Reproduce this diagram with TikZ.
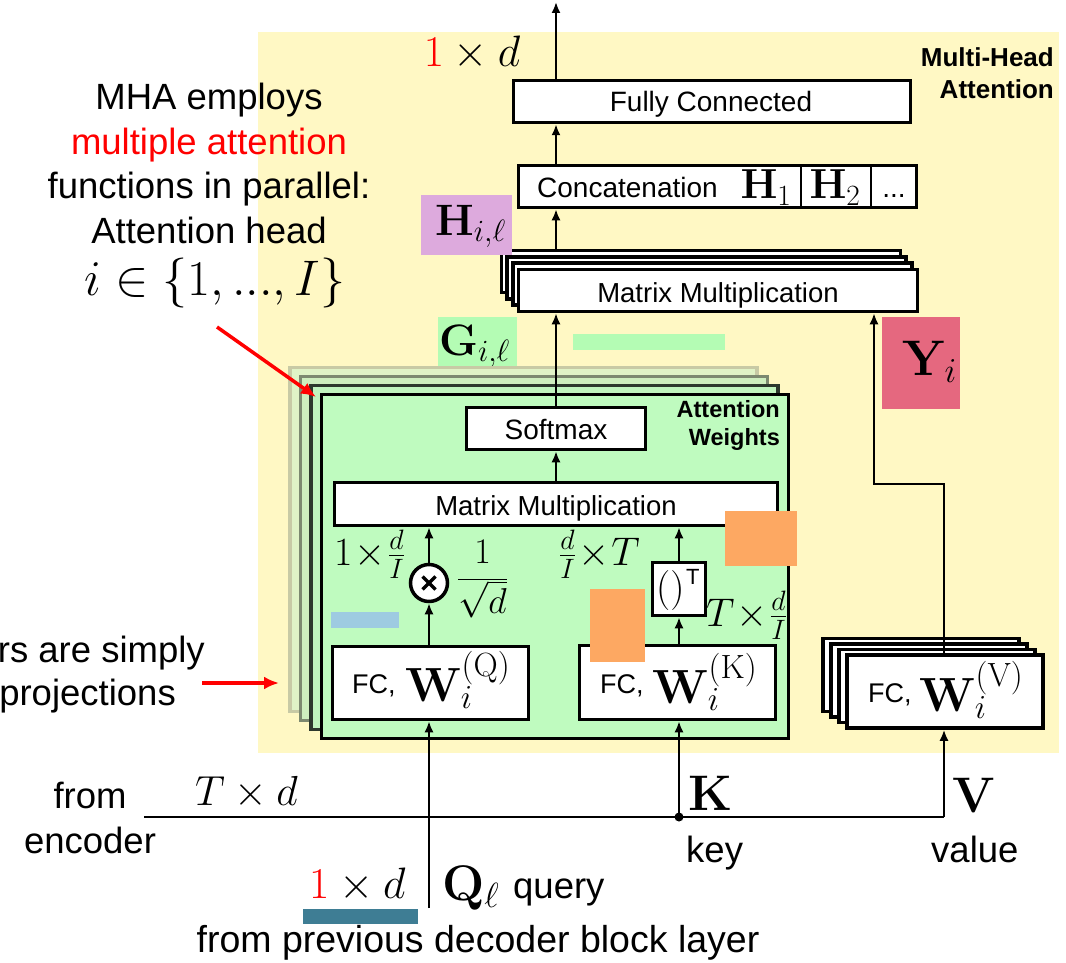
\RequirePackage{fix-cm}
\documentclass[tikz,border=0pt]{standalone}
\usepackage[no-math]{fontspec}
\setmainfont{Liberation Sans}
\usetikzlibrary{arrows.meta}
\definecolor{bgyellow}{RGB}{255,248,196}
\definecolor{attgreen}{RGB}{191,251,191}
\definecolor{ggreen}{RGB}{180,252,180}
\definecolor{hpurple}{RGB}{221,170,221}
\definecolor{yred}{RGB}{229,104,127}
\definecolor{patch}{RGB}{253,168,98}
\definecolor{lblue}{RGB}{158,203,225}
\definecolor{barteal}{RGB}{62,125,148}
\definecolor{gthreefill}{RGB}{224,243,198}
\definecolor{gthreedraw}{RGB}{200,202,165}
\definecolor{gtwofill}{RGB}{206,238,190}
\definecolor{gtwodraw}{RGB}{125,137,112}
\definecolor{gonefill}{RGB}{192,244,190}
\definecolor{gonedraw}{RGB}{45,56,45}
\begin{document}
\begin{tikzpicture}[x=1pt,y=-1pt,
  box/.style={draw, line width=3.5pt, fill=white, inner sep=0pt},
  gbox/.style={draw, line width=3.5pt, inner sep=0pt, minimum width=467, minimum height=344},
  arr/.style={line width=2pt, -{Latex[length=11pt,width=9pt]}},
  redarr/.style={red, line width=3.5pt, -{Latex[length=15pt,width=13pt]}},
  lab/.style={inner sep=0pt, anchor=base, font=\fontsize{36.5}{43}\selectfont},
  dimlab/.style={inner sep=0pt, anchor=base west, font=\fontsize{40}{44}\selectfont},
  boxlab/.style={inner sep=0pt, anchor=base, font=\fontsize{28}{32}\selectfont},
  fclab/.style={inner sep=0pt, anchor=base west, font=\fontsize{27}{32}\selectfont},
  wlab/.style={inner sep=0pt, anchor=base west, font=\fontsize{48}{48}\selectfont},
  titlelab/.style={inner sep=0pt, anchor=base east, font=\bfseries\fontsize{26}{30}\selectfont}]
\useasboundingbox (0,0) rectangle (1066,963);

% multi-head attention panel
\fill[bgyellow] (258,32) rectangle (1059,753);

% explanatory text on the left
\node[lab] (l1) at (209,110) {MHA employs};
\node[lab, text=red] (l2) at (209,155) {multiple attention};
\node[lab] (l3) at (209,199) {functions in parallel:};
\node[lab] (l4) at (209,243) {Attention head};
\node[lab, font=\fontsize{50}{50}\selectfont] (l5) at (215,295) {$i\in\{1,...,I\}$};
\node[lab, anchor=base east] (p1) at (205,662) {rs are simply};
\node[lab, anchor=base east] (p2) at (176,705) {projections};
\coordinate (ra1s) at (217,327);
\coordinate (ra1e) at (316,397);
\coordinate (ra2s) at (202,683);
\coordinate (ra2e) at (279,683);

% panel title
\node[titlelab] (mh1) at (1054,67) {Multi-Head};
\node[titlelab] (mh2) at (1054,99) {Attention};

% output layers
\node[box, minimum width=397, minimum height=42] (fc) at (712,101.5) {};
\node[boxlab] (fct) at (711,112) {Fully Connected};
\node[box, minimum width=398, minimum height=42] (concat) at (717.5,186.5) {};
\node[fclab, font=\fontsize{28}{32}\selectfont] (cattxt) at (537,197) {Concatenation};
\node[lab, font=\fontsize{42}{42}\selectfont] (h1) at (766,199) {$\mathbf{H}_1$};
\node[lab, font=\fontsize{42}{42}\selectfont] (h2) at (835,199) {$\mathbf{H}_2$};
\node[boxlab] (hdots) at (894,197) {...};
\draw[line width=1.5pt] (801,166) -- (801,207);
\draw[line width=1.5pt] (871,166) -- (871,207);

% stacked matrix multiplications (one per head)
\node[box, minimum width=399, minimum height=42] (mmb3) at (701,271.5) {};
\node[box, minimum width=399, minimum height=42] (mmb2) at (706.6,277.8) {};
\node[box, minimum width=399, minimum height=42] (mmb1) at (712.3,284.2) {};
\node[box, minimum width=399, minimum height=42] (mmtop) at (718,290.5) {};
\node[boxlab, font=\fontsize{27.5}{30}\selectfont] (mmtopt) at (718,302) {Matrix Multiplication};

% head labels
\fill[hpurple] (421,195) rectangle (512,255);
\node[lab, anchor=base west, font=\fontsize{44}{44}\selectfont] (hil) at (435,235) {$\mathbf{H}_{i,\ell}$};
\fill[ggreen] (438,317) rectangle (517,367);
\node[lab, anchor=base west, font=\fontsize{44}{44}\selectfont] (gil) at (439,355) {$\mathbf{G}_{i,\ell}$};
\fill[ggreen] (573,334) rectangle (725,350);
\fill[yred] (882,317) rectangle (960,409);
\node[lab, anchor=base west, font=\fontsize{50}{50}\selectfont] (yi) at (902,375) {$\mathbf{Y}_i$};

% attention weight blocks (one per head)
\node[gbox, fill=gthreefill, draw=gthreedraw] (g3) at (523.5,539.5) {};
\node[gbox, fill=gtwofill, draw=gtwodraw] (g2) at (534,548.5) {};
\node[gbox, fill=gonefill, draw=gonedraw] (g1) at (544.5,557.5) {};
\node[gbox, fill=attgreen, draw=black] (att) at (555,566.5) {};
\node[titlelab, font=\bfseries\fontsize{23.5}{26}\selectfont] (aw1) at (780,417) {Attention};
\node[titlelab, font=\bfseries\fontsize{23.5}{26}\selectfont] (aw2) at (780,445) {Weights};

\node[box, minimum width=179, minimum height=42] (softmax) at (556,428.5) {};
\node[boxlab] (smt) at (556,439) {Softmax};
\node[box, minimum width=443, minimum height=43] (mm) at (556,504) {};
\node[boxlab, font=\fontsize{27.5}{30}\selectfont] (mmt) at (556,515) {Matrix Multiplication};

\node[circle, draw, line width=3.5pt, fill=white, minimum size=37, inner sep=0pt] (otimes) at (429,583) {};
\draw[line width=3.5pt] ([shift={(-6.5,-6.5)}]otimes.center) -- ([shift={(6.5,6.5)}]otimes.center);
\draw[line width=3.5pt] ([shift={(-6.5,6.5)}]otimes.center) -- ([shift={(6.5,-6.5)}]otimes.center);

\node[box, minimum width=53, minimum height=53] (tr) at (679,589) {};
\node[lab, anchor=base west, font=\fontsize{40}{40}\selectfont] (trp) at (656,600) {$()$};
\node[lab, anchor=base west, font=\fontsize{22}{22}\selectfont] (trt) at (686,584) {T};

\node[box, minimum width=196, minimum height=73] (fcq) at (430.5,683) {};
\node[fclab] (fcqt) at (352,693) {FC,};
\node[wlab] (fcqw) at (405,701) {$\mathbf{W}_i^{(\mathrm{Q})}$};
\node[box, minimum width=196, minimum height=74] (fck) at (677.5,682.5) {};
\node[fclab] (fckt) at (600,693) {FC,};
\node[wlab] (fckw) at (652,703) {$\mathbf{W}_i^{(\mathrm{K})}$};

% dimension annotations inside the block
\node[dimlab] (dq) at (334,565) {$1\!\times\!\frac{d}{I}$};
\node[dimlab, font=\fontsize{36}{36}\selectfont] (sc) at (457,588) {$\displaystyle\frac{1}{\sqrt{d}}$};
\node[dimlab] (dk) at (559,565) {$\frac{d}{I}\!\times\! T$};
\node[dimlab] (dkt) at (706,626) {$T\!\times\!\frac{d}{I}$};

% value projections (one per head)
\node[box, minimum width=196, minimum height=73] (fcvb3) at (921,675) {};
\node[box, minimum width=196, minimum height=73] (fcvb2) at (929,680.5) {};
\node[box, minimum width=196, minimum height=73] (fcvb1) at (937,686) {};
\node[box, minimum width=196, minimum height=73] (fcv) at (945,691.5) {};
\node[fclab] (fcvt) at (868,702) {FC,};
\node[wlab] (fcvw) at (919,711) {$\mathbf{W}_i^{(\mathrm{V})}$};

% flat colour patches
\fill[patch] (725,511) rectangle (797,566);
\fill[patch] (590,589) rectangle (645,662);
\fill[lblue] (331,612) rectangle (399,628);
\fill[barteal] (303,909) rectangle (418,924);

% connectors
\coordinate (spine) at (556,0);
\coordinate (outtop) at (556,2);
\draw[arr] (fc.north -| spine) -- (outtop);
\draw[arr] (concat.north -| spine) -- (fc.south -| spine);
\draw[arr] (mmb3.north -| spine) -- (concat.south -| spine);
\draw[arr] (softmax.north) -- (mmtop.south -| softmax.north);
\draw[arr] (mm.north -| softmax.south) -- (softmax.south);
\draw[arr] (otimes.north) -- (mm.south -| otimes.north);
\draw[arr] (fcq.north -| otimes.south) -- (otimes.south);
\draw[arr] (tr.north) -- (mm.south -| tr.north);
\draw[arr] (fck.north -| tr.south) -- (tr.south);
\coordinate (vbend) at (944,484);
\coordinate (ybend) at (874,484);
\draw[arr] (fcv.north -| vbend) -- (vbend) -- (ybend) -- (mmtop.south -| ybend);

\coordinate (encstart) at (144,817);
\coordinate (vfoot) at (944,817);
\coordinate (kdot) at (679,817);
\coordinate (qstart) at (429,908);
\draw[line width=2pt] (encstart) -- (vfoot);
\draw[arr] (vfoot) -- (fcv.south -| vfoot);
\fill (kdot) circle (4.5);
\draw[arr] (kdot) -- (fck.south -| kdot);
\draw[arr] (qstart) -- (fcq.south -| qstart);

\draw[redarr] (ra1s) -- (ra1e);
\draw[redarr] (ra2s) -- (ra2e);

% inputs and their labels
\node[lab, font=\fontsize{44}{44}\selectfont] (outdim) at (472,67) {${\color{red}1}\times d$};
\node[lab, anchor=base west, font=\fontsize{42}{42}\selectfont] (encdim) at (195,805) {$T\times d$};
\node[lab] (from) at (90,808) {from};
\node[lab] (enc) at (90,853) {encoder};
\node[lab, anchor=base west, font=\fontsize{50}{50}\selectfont] (kk) at (688,810) {$\mathbf{K}$};
\node[lab, anchor=base west, font=\fontsize{50}{50}\selectfont] (vv) at (952,812) {$\mathbf{V}$};
\node[lab, anchor=base west] (key) at (686,862) {key};
\node[lab, anchor=base west] (value) at (931,862) {value};
\node[lab, anchor=base west, font=\fontsize{44}{44}\selectfont] (qdim) at (309,898) {${\color{red}1}\times d$};
\node[lab, anchor=base west, font=\fontsize{50}{50}\selectfont] (ql) at (442,900) {$\mathbf{Q}_\ell$};
\node[lab, anchor=base west] (query) at (513,898) {query};
\node[lab, font=\fontsize{37.5}{43}\selectfont] (prev) at (478,952) {from previous decoder block layer};
\end{tikzpicture}
\end{document}
